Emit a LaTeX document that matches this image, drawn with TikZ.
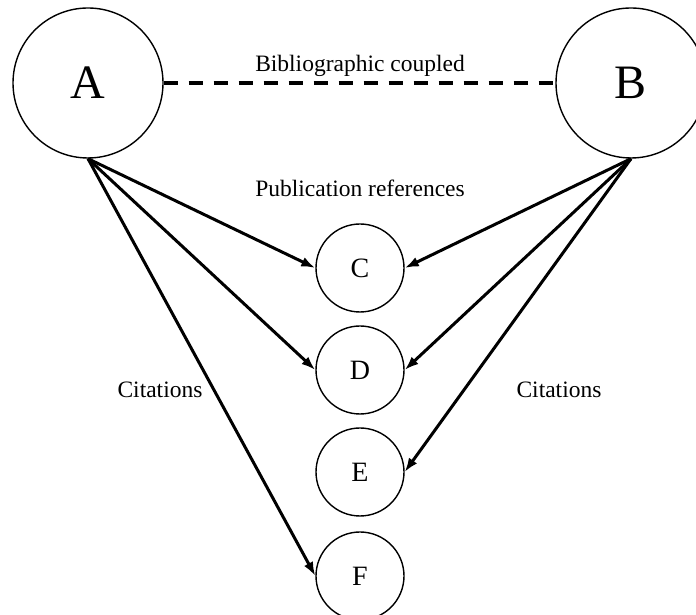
\documentclass[tikz,border=0pt]{standalone}
\usepackage{fontspec}
\setmainfont{Liberation Serif}
\usetikzlibrary{arrows.meta}

\begin{document}
\begin{tikzpicture}[x=1pt,y=1pt,>={Latex[length=14pt,width=10pt]}]
\tikzstyle{paper}=[circle,draw,line width=1.4pt,minimum size=150pt,inner sep=0pt,font=\fontsize{48}{48}\selectfont]
\tikzstyle{ref}=[circle,draw,line width=1.4pt,minimum size=88pt,inner sep=0pt,font=\fontsize{28}{28}\selectfont]
\tikzstyle{lbl}=[font=\fontsize{23.5}{23.5}\selectfont,anchor=base]
\clip (0,0) rectangle (696,615);
\node[paper](A) at (88,532) {A};
\node[paper](B) at (631,532) {B};
\node[ref](C) at (360,347) {C};
\node[ref](D) at (360,245) {D};
\node[ref](E) at (360,143) {E};
\node[ref](F) at (360,39) {F};

\node[lbl](coupled) at (360,543) {Bibliographic coupled};
\node[lbl](pubref) at (360,418) {Publication references};
\node[lbl](citeA) at (160,217) {Citations};
\node[lbl](citeB) at (559,217) {Citations};

\draw[line width=3.2pt,dash pattern=on 14pt off 11pt] (A.east) -- (B.west);

\draw[->,line width=3pt] (A.south) -- (C.west);
\draw[->,line width=3pt] (A.south) -- (D.west);
\draw[->,line width=3pt] (A.south) -- (F.west);
\draw[->,line width=3pt] (B.south) -- (C.east);
\draw[->,line width=3pt] (B.south) -- (D.east);
\draw[->,line width=3pt] (B.south) -- (E.east);
\end{tikzpicture}
\end{document}
